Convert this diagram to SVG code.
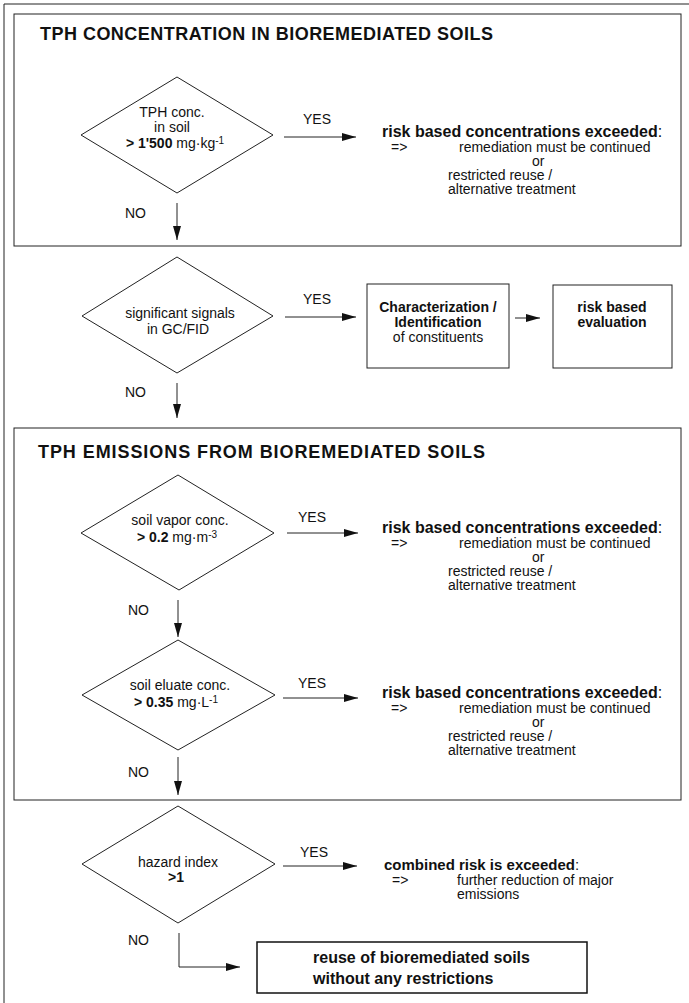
<svg xmlns="http://www.w3.org/2000/svg" width="689" height="1003" viewBox="0 0 689 1003">
<style>
  text { font-family: "Liberation Sans", Arial, Helvetica, sans-serif; fill: #111; }
  .t { font-size: 14px; }
  .b { font-weight: bold; }
  .h { font-size: 18px; font-weight: bold; }
  .lb { font-size: 16px; font-weight: bold; }
  .sup { font-size: 10px; }
  .m { text-anchor: middle; }
  .frame { fill: none; stroke: #222; stroke-width: 1; }
  .shape { fill: none; stroke: #222; stroke-width: 1; }
  .conn { fill: none; stroke: #222; stroke-width: 1; }
</style>
<defs>
  <marker id="ah" viewBox="0 0 14 8" refX="14" refY="4" markerWidth="14" markerHeight="8" markerUnits="userSpaceOnUse" orient="auto">
    <path d="M0,0 L14,4 L0,8 Z" fill="#111"/>
  </marker>
</defs>
<rect width="689" height="1003" fill="#fff"/>
<path class="frame" d="M4,1003 V4 H689"/>

<g id="section1">
  <rect class="frame" x="14" y="14" width="667" height="232"/>
  <text class="h" x="40" y="40" textLength="453" lengthAdjust="spacing">TPH CONCENTRATION IN BIOREMEDIATED SOILS</text>
</g>
<g id="section2">
  <rect class="frame" x="14" y="428" width="667" height="372"/>
  <text class="h" x="38" y="458" textLength="447" lengthAdjust="spacing">TPH EMISSIONS FROM BIOREMEDIATED SOILS</text>
</g>

<g id="d1">
  <polygon class="shape" points="177,77 273,135 177,193 81,135"/>
  <text class="t m" x="172" y="117">TPH conc.</text>
  <text class="t m" x="172" y="132">in soil</text>
  <text class="t m" x="175" y="148"><tspan class="b">&gt; 1'500</tspan> mg·kg<tspan class="sup" dy="-4">-1</tspan></text>
</g>
<g id="r1">
  <text class="lb" x="382" y="137">risk based concentrations exceeded<tspan font-weight="normal">:</tspan></text>
  <text class="t" x="391" y="152">=&gt;</text>
  <text class="t" x="459" y="152">remediation must be continued</text>
  <text class="t" x="532" y="166">or</text>
  <text class="t" x="448" y="180">restricted reuse /</text>
  <text class="t" x="448" y="194">alternative treatment</text>
</g>

<g id="d2">
  <polygon class="shape" points="177,257 273,316 177,373 82,316"/>
  <text class="t m" x="180" y="318">significant signals</text>
  <text class="t m" x="178" y="334">in GC/FID</text>
</g>
<g id="char">
  <rect class="shape" x="367" y="284" width="142" height="84"/>
  <text class="t b m" x="438" y="312">Characterization /</text>
  <text class="t b m" x="438" y="327">Identification</text>
  <text class="t m" x="438" y="342">of constituents</text>
</g>
<g id="eval">
  <rect class="shape" x="553" y="285" width="119" height="83"/>
  <text class="t b m" x="612" y="312">risk based</text>
  <text class="t b m" x="612" y="327">evaluation</text>
</g>

<g id="d3">
  <polygon class="shape" points="178,475 274,533 179,590 81,533"/>
  <text class="t m" x="180" y="525">soil vapor conc.</text>
  <text class="t m" x="177" y="542"><tspan class="b">&gt; 0.2</tspan> mg·m<tspan class="sup" dy="-4">-3</tspan></text>
</g>
<g id="r3">
  <text class="lb" x="382" y="533">risk based concentrations exceeded<tspan font-weight="normal">:</tspan></text>
  <text class="t" x="391" y="548">=&gt;</text>
  <text class="t" x="459" y="548">remediation must be continued</text>
  <text class="t" x="532" y="562">or</text>
  <text class="t" x="448" y="576">restricted reuse /</text>
  <text class="t" x="448" y="590">alternative treatment</text>
</g>

<g id="d4">
  <polygon class="shape" points="178,640 275,695 178,750 82,695"/>
  <text class="t m" x="180" y="690">soil eluate conc.</text>
  <text class="t m" x="176" y="707"><tspan class="b">&gt; 0.35</tspan> mg·L<tspan class="sup" dy="-4">-1</tspan></text>
</g>
<g id="r4">
  <text class="lb" x="382" y="698">risk based concentrations exceeded<tspan font-weight="normal">:</tspan></text>
  <text class="t" x="391" y="713">=&gt;</text>
  <text class="t" x="459" y="713">remediation must be continued</text>
  <text class="t" x="532" y="727">or</text>
  <text class="t" x="448" y="741">restricted reuse /</text>
  <text class="t" x="448" y="755">alternative treatment</text>
</g>

<g id="d5">
  <polygon class="shape" points="178,806 275,864 178,923 82,864"/>
  <text class="t m" x="178" y="867">hazard index</text>
  <text class="t b m" x="176" y="882">&gt;1</text>
</g>
<g id="r5">
  <text class="t b" x="384" y="870" style="font-size:15px">combined risk is exceeded<tspan font-weight="normal">:</tspan></text>
  <text class="t" x="392" y="885">=&gt;</text>
  <text class="t" x="457" y="885">further reduction of major</text>
  <text class="t" x="457" y="899">emissions</text>
</g>

<g id="final">
  <rect x="257" y="942" width="330" height="51" fill="none" stroke="#111" stroke-width="1.5"/>
  <text class="lb" x="313" y="963">reuse of bioremediated soils</text>
  <text class="lb" x="313" y="984">without any restrictions</text>
</g>

<g id="connectors">
  <line class="conn" x1="284" y1="137" x2="356" y2="137" marker-end="url(#ah)"/>
  <line class="conn" x1="177" y1="203" x2="177" y2="240" marker-end="url(#ah)"/>
  <line class="conn" x1="285" y1="317" x2="356" y2="317" marker-end="url(#ah)"/>
  <line class="conn" x1="515" y1="318" x2="540" y2="318" marker-end="url(#ah)"/>
  <line class="conn" x1="177" y1="383" x2="177" y2="418" marker-end="url(#ah)"/>
  <line class="conn" x1="287" y1="533" x2="358" y2="533" marker-end="url(#ah)"/>
  <line class="conn" x1="178" y1="600" x2="178" y2="637" marker-end="url(#ah)"/>
  <line class="conn" x1="283" y1="698" x2="358" y2="698" marker-end="url(#ah)"/>
  <line class="conn" x1="178" y1="757" x2="178" y2="795" marker-end="url(#ah)"/>
  <line class="conn" x1="283" y1="866" x2="357" y2="866" marker-end="url(#ah)"/>
  <path class="conn" d="M179,933 V967 H240" marker-end="url(#ah)"/>
</g>

<g id="labels">
  <text class="t" x="303" y="124">YES</text>
  <text class="t" x="125" y="218">NO</text>
  <text class="t" x="303" y="304">YES</text>
  <text class="t" x="125" y="397">NO</text>
  <text class="t" x="298" y="522">YES</text>
  <text class="t" x="128" y="615">NO</text>
  <text class="t" x="298" y="688">YES</text>
  <text class="t" x="128" y="777">NO</text>
  <text class="t" x="300" y="857">YES</text>
  <text class="t" x="128" y="945">NO</text>
</g>
</svg>
